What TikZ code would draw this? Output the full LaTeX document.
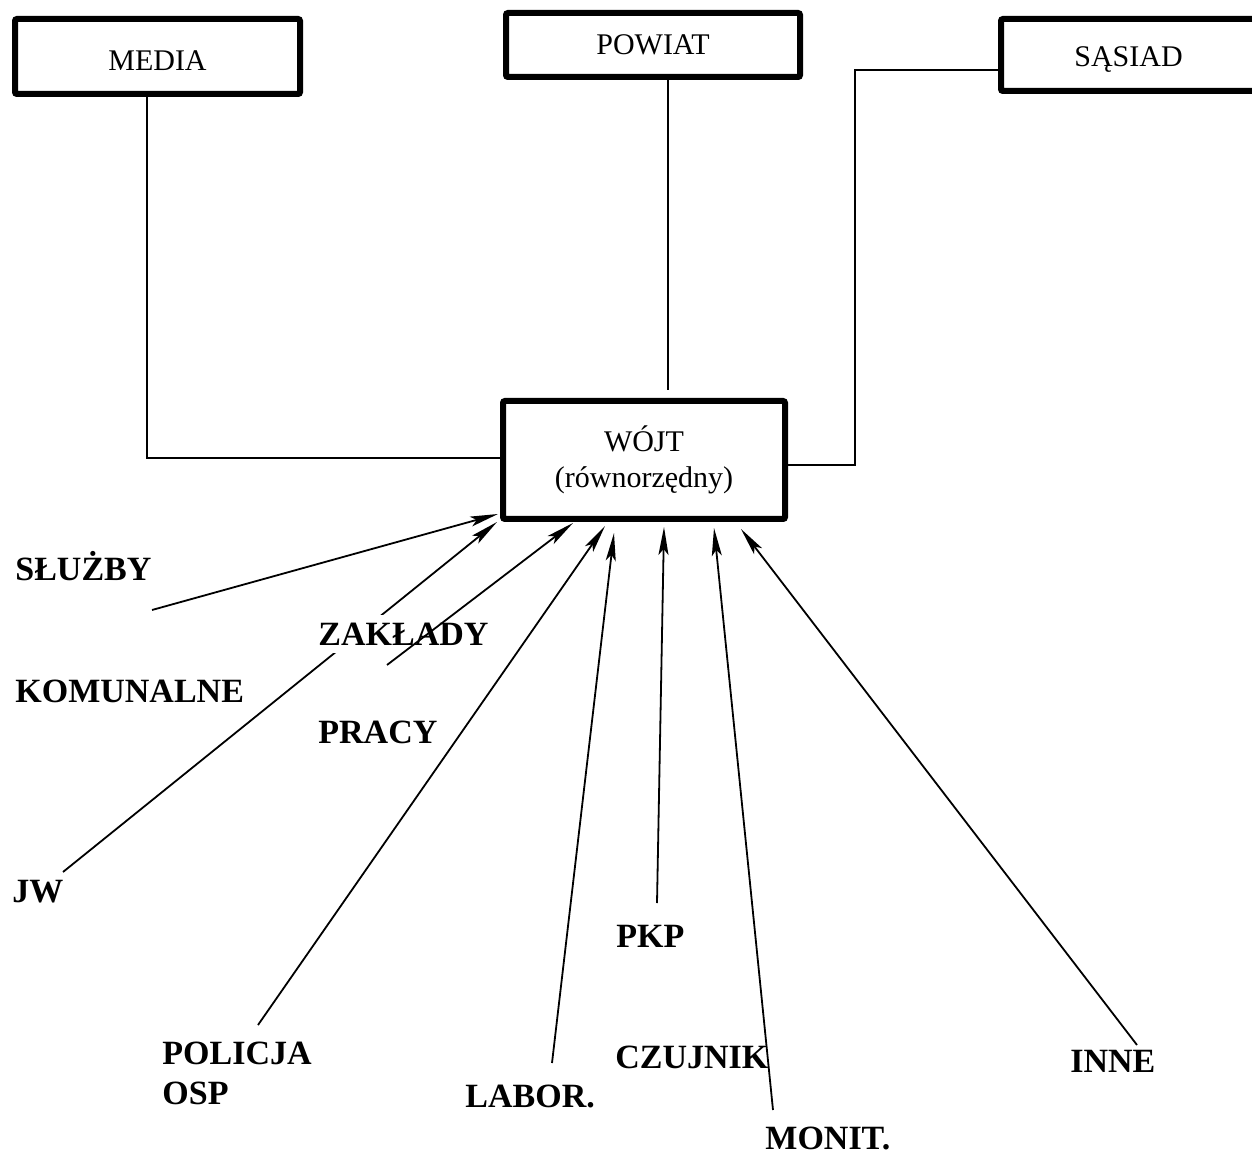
\documentclass[tikz,border=0pt]{standalone}
\usepackage{fontspec}
\setmainfont{Liberation Serif}
\usetikzlibrary{arrows.meta}
\begin{document}
\begin{tikzpicture}[x=0.5pt,y=-0.5pt,
  box/.style={draw, line width=3pt, rounded corners=1pt, inner sep=0pt, fill=white,
    font=\fontsize{15}{18}\selectfont},
  lbl/.style={font=\fontsize{17}{20}\selectfont\bfseries, inner sep=0pt, anchor=base west},
  conn/.style={line width=0.55pt},
  arr/.style={line width=0.9pt, -{Stealth[length=14pt,width=5pt,inset=3pt]}}]
\useasboundingbox (0,0) rectangle (1252,1154);

% boxes
\node[box, minimum width=142.5pt, minimum height=37.5pt, text height=13.9pt, text depth=0pt]
  (media) at (157.5,56.5) {MEDIA};
\node[box, minimum width=147pt, minimum height=32pt, text height=9.9pt, text depth=0pt]
  (powiat) at (653,45) {POWIAT};
\node[box, minimum width=130.5pt, minimum height=36pt, text height=11.9pt, text depth=0pt]
  (sasiad) at (1131.5,55) {\hspace*{-3pt}SĄSIAD};
\node[box, minimum width=141pt, minimum height=59pt, align=center] (wojt) at (644,460)
  {\raisebox{-1.5pt}{WÓJT}\\\raisebox{-1.5pt}{(równorzędny)}};

% plain connectors
\coordinate (m1) at (147,458);
\draw[conn] (media.south -| m1) -- (m1) -- (m1 -| wojt.west);
\coordinate (p1) at (668,390);
\draw[conn] (powiat.south -| p1) -- (p1);
\coordinate (s1) at (855,70);
\coordinate (s2) at (855,465);
\draw[conn] (s1 -| sasiad.west) -- (s1) -- (s2) -- (s2 -| wojt.east);

% arrow start and tip coordinates
\coordinate (sluzbyA) at (152,610);  \coordinate (sluzbyT) at (498,514);
\coordinate (jwA) at (63,872);       \coordinate (jwT) at (497,522);
\coordinate (pracyA) at (387,665);   \coordinate (pracyT) at (573,523);
\coordinate (policjaA) at (258,1025);\coordinate (policjaT) at (605,526);
\coordinate (laborA) at (552,1063);  \coordinate (laborT) at (614,533);
\coordinate (pkpA) at (657,903);     \coordinate (pkpT) at (664,527);
\coordinate (monitA) at (773,1110);  \coordinate (monitT) at (714,528);
\coordinate (inneA) at (1137,1045);  \coordinate (inneT) at (741,529);

% arrows drawn under the ZAKŁADY label
\draw[arr] (sluzbyA) -- (sluzbyT);
\draw[arr] (jwA) -- (jwT);

% labels
\node[lbl] (sluzby) at (15,581) {SŁUŻBY};
\node[lbl, fill=white, inner sep=4pt] (zaklady) at (310,645) {ZAKŁADY};
\node[lbl] (komunalne) at (15,702) {KOMUNALNE};
\node[lbl] (pracy) at (318,743) {PRACY};
\node[lbl] (jw) at (12,902) {JW};
\node[lbl] (pkp) at (616,947) {PKP};
\node[lbl] (policja) at (162,1064) {POLICJA};
\node[lbl] (osp) at (162,1104) {OSP};
\node[lbl] (czujnik) at (615,1068) {CZUJNIK};
\node[lbl] (labor) at (465,1107) {LABOR.};
\node[lbl] (monit) at (765,1149) {MONIT.};
\node[lbl] (inne) at (1070,1072) {INNE};

% remaining arrows
\draw[arr] (pracyA) -- (pracyT);
\draw[arr] (policjaA) -- (policjaT);
\draw[arr] (laborA) -- (laborT);
\draw[arr] (pkpA) -- (pkpT);
\draw[arr] (monitA) -- (monitT);
\draw[arr] (inneA) -- (inneT);
\end{tikzpicture}
\end{document}
